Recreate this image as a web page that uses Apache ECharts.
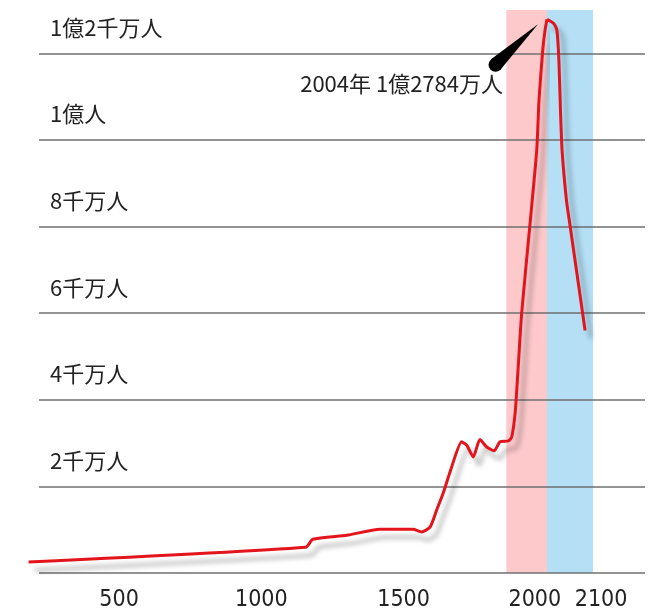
<!DOCTYPE html>
<html>
<head>
<meta charset="utf-8">
<style>
  html, body { margin: 0; padding: 0; background: #fff; }
  #chart { width: 650px; height: 611px; }
</style>
<script src="https://cdn.jsdelivr.net/npm/echarts@6/dist/echarts.min.js"></script>
</head>
<body>
<div id="chart"></div>
<script>
// population in 万人
var historyYears = [182, 1156, 1181, 1300, 1417, 1533, 1563, 1593, 1616, 1639, 1669, 1704, 1722, 1745, 1768, 1792, 1818, 1839, 1868, 1880, 1892, 1900, 1915, 1944, 1968, 1976, 1989, 1997, 2004];
var historyPop = [254, 594, 779, 872, 1010, 1010, 948, 1060, 1450, 1840, 2450, 3030, 2950, 2680, 3080, 2910, 2820, 3030, 3050, 3140, 3690, 4460, 6000, 8040, 9770, 10930, 12070, 12530, 12784];
var futureYears = [2004, 2021, 2029, 2034, 2038, 2042, 2053, 2062, 2083, 2100];
var futurePop = [12784, 12690, 12530, 11840, 10680, 9760, 8610, 8030, 6690, 5600];

var yTickLabels = ['2千万人', '4千万人', '6千万人', '8千万人', '1億人', '1億2千万人'];
var historyTicks = [500, 1000, 1500, 2000];
var futureTicks = [2100];
var pinkBand = [1861, 2004];
var blueBand = [2004, 2120];
var peak = [2004, 12784];
var peakText = '2004年 1億2784万人';

function pairs(xs, ys) {
    return xs.map(function (x, i) { return [x, ys[i]]; });
}

var cjkFont = '"Noto Sans CJK JP", sans-serif';
var numFont = '"Liberation Sans Narrow", "DejaVu Sans Condensed", sans-serif';

var lineStyle = {
    color: '#e3141b',
    width: 3,
    shadowColor: 'rgba(0,0,0,0.3)',
    shadowBlur: 5,
    shadowOffsetX: 6,
    shadowOffsetY: 8
};

var chart = echarts.init(document.getElementById('chart'));
var option = {
    animation: false,
    grid: [{
        left: 39, right: 5, top: 10, bottom: 38,
        containLabel: false, outerBoundsMode: 'none'
    }, {
        left: 28.6, width: 518.4, top: 10, bottom: 38,
        containLabel: false, outerBoundsMode: 'none'
    }, {
        left: 547, width: 46, top: 10, bottom: 38,
        containLabel: false, outerBoundsMode: 'none'
    }],
    xAxis: [{
        gridIndex: 0, type: 'value', min: 0, max: 1, show: false
    }, {
        gridIndex: 1,
        type: 'value',
        min: 182,
        max: 2004,
        axisLine: { show: false },
        axisTick: { show: false },
        splitLine: { show: false },
        axisLabel: {
            customValues: historyTicks,
            margin: 16,
            fontSize: 23,
            fontFamily: numFont,
            color: '#222',
            formatter: function (v) {
                return v === 2000 ? '{l|' + v + '}' : '' + v;
            },
            rich: {
                l: { fontSize: 23, fontFamily: numFont, color: '#222', padding: [0, 22, 0, 0] }
            }
        }
    }, {
        gridIndex: 2,
        type: 'value',
        min: 2004,
        max: 2120,
        axisLine: { show: false },
        axisTick: { show: false },
        splitLine: { show: false },
        axisLabel: {
            customValues: futureTicks,
            margin: 16,
            formatter: function (v) { return '{r|' + v + '}'; },
            rich: {
                r: { fontSize: 23, fontFamily: numFont, color: '#222', padding: [0, 0, 0, 32] }
            }
        }
    }],
    yAxis: [{
        gridIndex: 0,
        type: 'value',
        min: 0,
        max: 13000,
        interval: 2000,
        z: 2,
        axisLine: { show: false },
        axisTick: { show: false },
        splitLine: {
            showMaxLine: false,
            lineStyle: { color: '#6f6f6f', width: 1.6 }
        },
        axisLabel: {
            inside: true,
            margin: 11,
            showMaxLabel: false,
            showMinLabel: false,
            verticalAlign: 'bottom',
            padding: [0, 0, 15, 0],
            fontSize: 22,
            fontFamily: cjkFont,
            color: '#222',
            formatter: function (v) {
                var i = v / 2000 - 1;
                return i >= 0 && i < yTickLabels.length ? yTickLabels[i] : '';
            }
        }
    }, {
        gridIndex: 1, type: 'value', min: 0, max: 13000, show: false
    }, {
        gridIndex: 2, type: 'value', min: 0, max: 13000, show: false
    }],
    series: [{
        type: 'line',
        xAxisIndex: 1,
        yAxisIndex: 1,
        data: [],
        z: 1,
        markArea: {
            silent: true,
            itemStyle: { color: '#fdc9cb' },
            data: [[{ xAxis: pinkBand[0] }, { xAxis: pinkBand[1] }]]
        }
    }, {
        type: 'line',
        xAxisIndex: 2,
        yAxisIndex: 2,
        data: [],
        z: 1,
        markArea: {
            silent: true,
            itemStyle: { color: '#b5dff5' },
            data: [[{ xAxis: blueBand[0] }, { xAxis: blueBand[1] }]]
        }
    }, {
        name: '人口',
        type: 'line',
        xAxisIndex: 1,
        yAxisIndex: 1,
        z: 3,
        smooth: 0.2,
        symbol: 'none',
        clip: false,
        lineStyle: lineStyle,
        data: pairs(historyYears, historyPop)
    }, {
        name: '将来',
        type: 'line',
        xAxisIndex: 2,
        yAxisIndex: 2,
        z: 3,
        smooth: 0.2,
        symbol: 'none',
        clip: false,
        lineStyle: lineStyle,
        data: pairs(futureYears, futurePop)
    }]
};
chart.setOption(option);

// callout wedge and text next to the peak
var p = chart.convertToPixel({ xAxisIndex: 1, yAxisIndex: 1 }, peak);
chart.setOption({
    graphic: [{
        type: 'polygon',
        z: 10,
        shape: {
            points: [[p[0] - 9, p[1] + 5], [p[0] - 56, p[1] + 40], [p[0] - 47, p[1] + 51]]
        },
        style: { fill: '#000' }
    }, {
        type: 'circle',
        z: 10,
        shape: { cx: p[0] - 51.5, cy: p[1] + 45.5, r: 7 },
        style: { fill: '#000' }
    }, {
        type: 'text',
        z: 10,
        x: p[0] - 44,
        y: p[1] + 64,
        style: {
            text: peakText,
            align: 'right',
            verticalAlign: 'middle',
            fontSize: 22,
            fontFamily: cjkFont,
            fill: '#222'
        }
    }]
});
</script>
</body>
</html>
